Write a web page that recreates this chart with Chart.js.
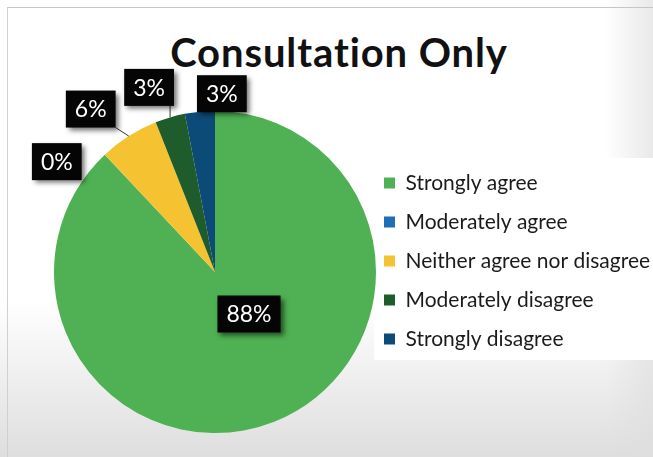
<!DOCTYPE html>
<html>
<head>
<meta charset="utf-8">
<title>Consultation Only</title>
<script src="https://cdn.jsdelivr.net/npm/chart.js@4.4.1/dist/chart.umd.min.js"></script>
<style>
  html, body { margin: 0; padding: 0; }
  body {
    width: 653px;
    height: 457px;
    overflow: hidden;
    position: relative;
    background:
      linear-gradient(to bottom, rgba(224,224,224,0) 0px, rgba(224,224,224,0) 300px, rgba(222,222,222,1) 457px),
      linear-gradient(to right, #fff 0px, #fff 605px, #e9e9e9 653px);
  }
  #frame {
    position: absolute; left: 7px; top: 7px; right: 0; bottom: 0;
    border-top: 1px solid #c6c6c6; border-left: 1px solid #d0d0d0;
  }
  #legendPanel { position: absolute; left: 374px; top: 158px; width: 279px; height: 202px; background: #fff; }
  #title {
    position: absolute; top: 28px; left: 339px; transform: translateX(-50%);
    white-space: nowrap; font: bold 40px Lato, sans-serif; line-height: 1.2;
    letter-spacing: 0.9px; font-variant-ligatures: none; color: #111;
  }
  #wrap { position: absolute; left: 0; top: 0; height: 457px; }
</style>
</head>
<body>
<div id="frame"></div>
<div id="legendPanel"></div>
<div id="title">Consultation Only</div>
<div id="wrap"><canvas id="pie"></canvas></div>
<script>
const categories = ['Strongly agree', 'Moderately agree', 'Neither agree nor disagree', 'Moderately disagree', 'Strongly disagree'];
const shares = [88, 0, 6, 3, 3];
const sliceColors = ['#4fb153', '#1f6fb5', '#f5c232', '#1e5d2b', '#0c4a78'];

// value boxes: offset from the slice's outer edge, or from the pie centre
const labelSpots = [
  { from: 'centre', dx: 34, dy: 42 },
  { from: 'edge', dx: -48, dy: 7 },
  { from: 'edge', dx: -38, dy: -27, leader: true },
  { from: 'edge', dx: -21, dy: -30, leader: true },
  { from: 'edge', dx: 22, dy: -18 }
];

const PIE_X = 215, PIE_Y = 272, PIE_R = 161;
const LEGEND_LEFT = 366, LEGEND_ROW1 = 183;
const LEGEND_FONT = { family: 'Lato', size: 21 };
const LEGEND_PAD = 18, LEGEND_BOX = 11;

// legend width the same way Chart.js sizes a vertical legend
function legendWidth() {
  const ctx = document.createElement('canvas').getContext('2d');
  ctx.font = LEGEND_FONT.size + 'px ' + LEGEND_FONT.family;
  const widest = Math.max(...categories.map(c => ctx.measureText(c).width));
  return LEGEND_PAD + LEGEND_BOX + LEGEND_FONT.size / 2 + widest + 10;
}

const lw = legendWidth();
const wrapW = Math.max(653, Math.ceil(LEGEND_LEFT + lw));
document.getElementById('wrap').style.width = wrapW + 'px';

const padTop = LEGEND_ROW1 - LEGEND_PAD - LEGEND_FONT.size / 2;
const padBottom = 457 - (2 * PIE_Y - padTop);

// black value boxes with a soft drop shadow
const boxLabels = {
  id: 'boxLabels',
  afterDatasetsDraw(chart) {
    const ctx = chart.ctx;
    const arcs = chart.getDatasetMeta(0).data;
    ctx.save();
    ctx.font = '23px Lato';
    ctx.textAlign = 'center';
    ctx.textBaseline = 'middle';
    arcs.forEach((arc, i) => {
      const spot = labelSpots[i];
      const p = arc.getProps(['x', 'y', 'startAngle', 'endAngle', 'outerRadius'], true);
      const mid = (p.startAngle + p.endAngle) / 2;
      let ax = p.x, ay = p.y;
      if (spot.from === 'edge') {
        ax += Math.cos(mid) * p.outerRadius;
        ay += Math.sin(mid) * p.outerRadius;
      }
      const cx = ax + spot.dx, cy = ay + spot.dy;
      const text = shares[i] + '%';
      const w = ctx.measureText(text).width + 18, h = 37;
      const l = cx - w / 2, t = cy - h / 2;

      if (spot.leader) {
        const ex = Math.min(Math.max(ax, l), l + w);
        const ey = Math.min(Math.max(ay, t), t + h);
        ctx.strokeStyle = '#333';
        ctx.lineWidth = 1;
        ctx.beginPath();
        ctx.moveTo(ex, ey);
        ctx.lineTo(ax, ay);
        ctx.stroke();
      }

      ctx.save();
      ctx.shadowColor = 'rgba(0,0,0,0.55)';
      ctx.shadowBlur = 5;
      ctx.shadowOffsetX = 3;
      ctx.shadowOffsetY = 3;
      ctx.fillStyle = '#050505';
      ctx.fillRect(l, t, w, h);
      ctx.restore();

      ctx.fillStyle = '#fff';
      ctx.fillText(text, cx, cy + 1);
    });
    ctx.restore();
  }
};

new Chart(document.getElementById('pie'), {
  type: 'pie',
  data: {
    labels: categories,
    datasets: [{
      data: shares,
      backgroundColor: sliceColors,
      borderWidth: 0,
      radius: PIE_R,
      clip: false
    }]
  },
  options: {
    responsive: true,
    maintainAspectRatio: false,
    animation: false,
    events: [],
    layout: {
      padding: {
        left: 2 * PIE_X - LEGEND_LEFT,
        right: wrapW - LEGEND_LEFT - lw,
        top: padTop,
        bottom: padBottom
      }
    },
    plugins: {
      title: { display: false },
      tooltip: { enabled: false },
      legend: {
        position: 'right',
        align: 'start',
        maxWidth: 400,
        labels: {
          boxWidth: LEGEND_BOX,
          boxHeight: LEGEND_BOX,
          padding: LEGEND_PAD,
          color: '#1b1b1b',
          font: LEGEND_FONT
        }
      }
    }
  },
  plugins: [boxLabels]
});
</script>
</body>
</html>
